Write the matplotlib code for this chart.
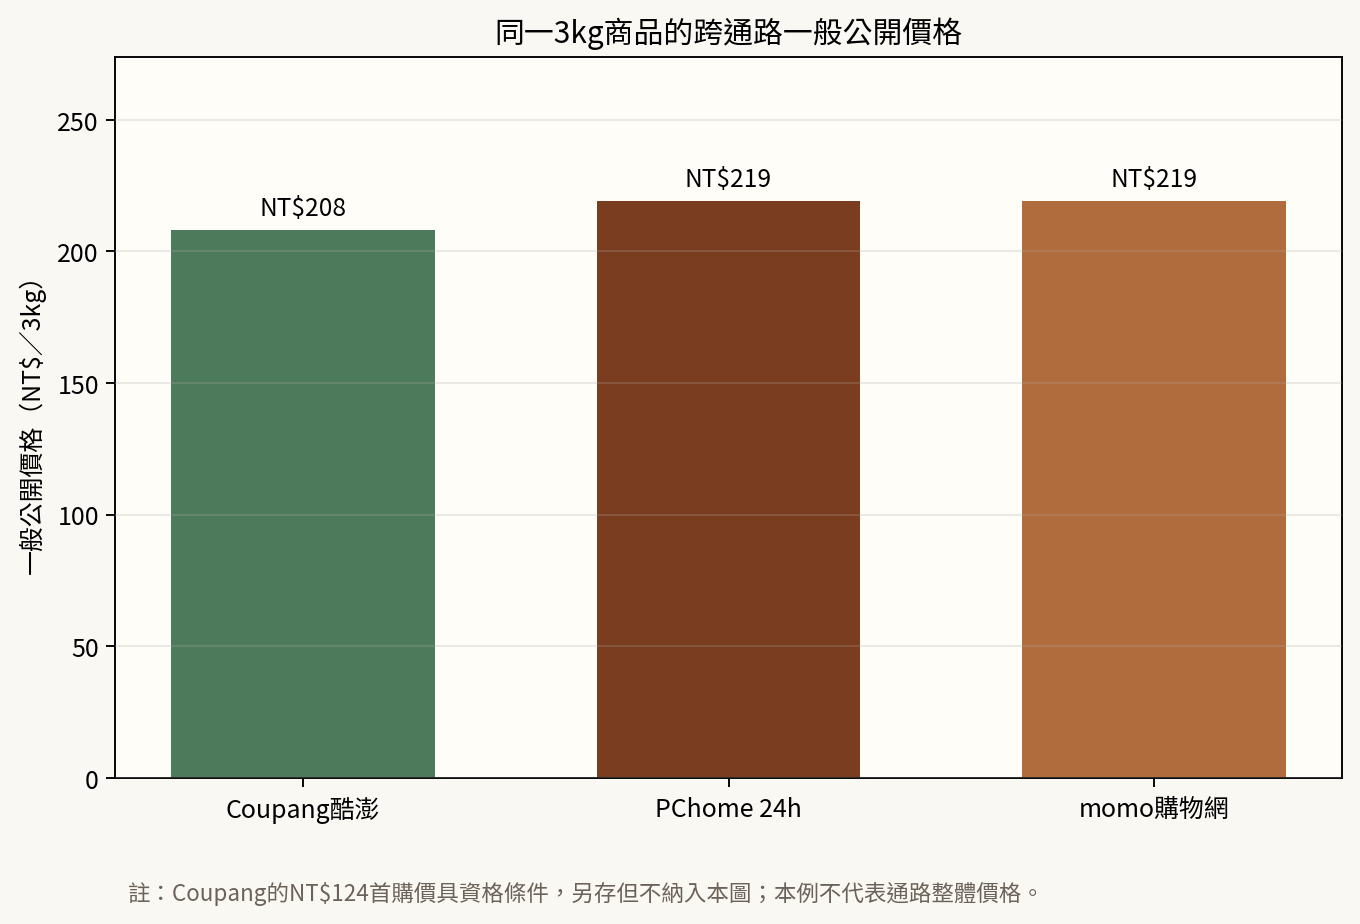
import matplotlib
matplotlib.use("Agg")
import matplotlib.pyplot as plt

plt.rcParams['font.family'] = ['Noto Sans CJK TC', 'DejaVu Sans']

channels = ["Coupang酷澎", "PChome 24h", "momo購物網"]
prices = [208, 219, 219]
colors = ["#4E7A5C", "#7A3D1F", "#B06C3D"]
title = "同一3kg商品的跨通路一般公開價格"
ylabel = "一般公開價格（NT$／3kg）"
note = "註：Coupang的NT$124首購價具資格條件，另存但不納入本圖；本例不代表通路整體價格。"

fig = plt.figure(figsize=(10, 6.8), dpi=136, facecolor="#FAF8F2")
ax = fig.add_axes([115/1360, 146/924, (1342-115)/1360, (778-58)/924])
ax.set_facecolor("#FFFDF8")

x = list(range(len(channels)))
bars = ax.bar(x, prices, width=0.62, color=colors, zorder=2)
ax.set_ylim(0, max(prices) * 1.25)
ax.set_xticks(x)
ax.set_xticklabels(channels, fontsize=13.2)
ax.set_yticks([0, 50, 100, 150, 200, 250])
ax.tick_params(axis='y', labelsize=13.2)
ax.tick_params(axis='both', length=5, width=1.0)
ax.tick_params(axis='x', pad=4.5)
ax.yaxis.grid(True, color="#ADAAA3", linewidth=1.0, alpha=0.25, zorder=3)
ax.set_axisbelow(False)
for l in ax.get_ygridlines():
    l.set_zorder(3)
ax.set_ylabel(ylabel, fontsize=13.2, labelpad=6)
ax.set_title(title, fontsize=15.8, pad=8)

for xi, v in zip(x, prices):
    ax.annotate(f"NT${v}", (xi, v), xytext=(0, 5), textcoords="offset points",
                ha="center", va="bottom", fontsize=13)

for s in ax.spines.values():
    s.set_linewidth(1.0)
    s.set_color("black")

fig.text(128/1360, 1 - 893/924, note, fontsize=11.9, color="#6B625A", ha="left", va="center")

fig.savefig("out.png", dpi=136, facecolor=fig.get_facecolor())
